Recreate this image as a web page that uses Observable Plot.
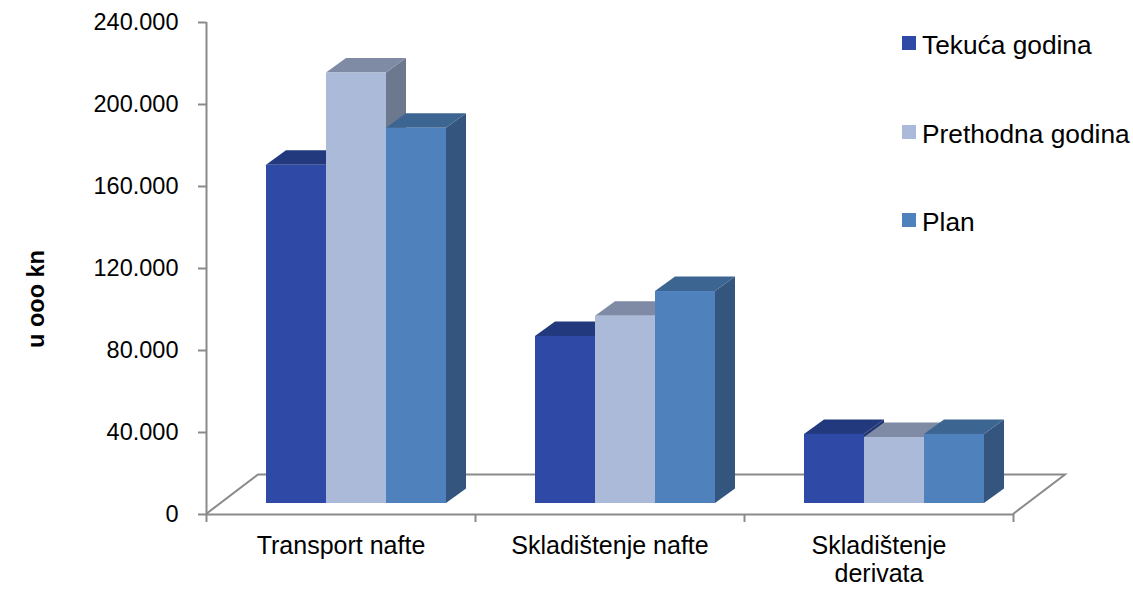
<!DOCTYPE html>
<html>
<head>
<meta charset="utf-8">
<script src="https://cdn.jsdelivr.net/npm/d3@7"></script>
<script src="https://cdn.jsdelivr.net/npm/@observablehq/plot@0.6"></script>
<style>
  html, body { margin: 0; padding: 0; background: #fff; }
  #chart { position: relative; width: 1133px; height: 589px; font-family: "Liberation Sans", Arial, sans-serif; }
  #legend { position: absolute; left: 902px; top: 0; }
  .item { position: absolute; left: 0; white-space: nowrap; font-size: 26.3px; line-height: 26px; color: #000; }
  .key { position: absolute; left: 0; width: 14px; height: 14px; }
  .lbl { position: absolute; left: 20px; top: 0; }
</style>
</head>
<body>
<div id="chart"><div id="legend"></div></div>
<script>
// ---- data ----
const categories = ["Transport nafte", "Skladištenje nafte", "Skladištenje\nderivata"];
const seriesNames = ["Tekuća godina", "Prethodna godina", "Plan"];
const tekuca    = [165000, 81500, 33700];
const prethodna = [210000, 91400, 32200];
const plan      = [183000, 103400, 33700];
const yTicks = [0, 40000, 80000, 120000, 160000, 200000, 240000];
const yLabel = "u ooo kn";

// ---- styles ----
const frontColors = ["#2F4AA6", "#ABBAD8", "#4F81BD"];
const topColors   = ["#223A7D", "#7F8BA4", "#3D6592"];
const sideColors  = ["#1F3470", "#6C788D", "#33557E"];
const axisGrey = "#8A8A8A";

// ---- layout constants (pixels / band fractions) ----
const GAP = 60 / 269;      // offset of first bar inside a category band
const BW = 60 / 269;       // bar width as band fraction
const FRONT_DY = -11;      // front plane of bars above the floor front edge
const DEPTH_DX = 20, DEPTH_DY = 14.5;   // bar depth
const FLOOR_DX = 52, FLOOR_DY = 39.5;   // floor depth

const seriesValues = [tekuca, prethodna, plan];
const rows = [];
categories.forEach((c, i) => {
  seriesValues.forEach((vals, s) => {
    rows.push({cat: c, series: seriesNames[s], s, value: vals[i], x1: i + GAP + s * BW, x2: i + GAP + (s + 1) * BW});
  });
});

const locale = d3.formatLocale({decimal: ",", thousands: ".", grouping: [3], currency: ["", ""]});
const fmt = locale.format(",");

function floorMark(index, scales) {
  const {x, y} = scales;
  const x0 = x(0), x1 = x(categories.length), y0 = y(0);
  const g = d3.create("svg:g");
  g.append("path")
    .attr("d", `M${x0},${y0}L${x0 + FLOOR_DX},${y0 - FLOOR_DY}L${x1 + FLOOR_DX},${y0 - FLOOR_DY}L${x1},${y0}`)
    .attr("fill", "#fff")
    .attr("stroke", axisGrey)
    .attr("stroke-width", 2);
  return g.node();
}

function depthFaces(index, scales) {
  const {x, y} = scales;
  const g = d3.create("svg:g");
  for (const d of rows) {
    const xl = x(d.x1), xr = x(d.x2);
    const yt = y(d.value) + FRONT_DY, yb = y(0) + FRONT_DY;
    g.append("path")
      .attr("d", `M${xr},${yb}L${xr + DEPTH_DX},${yb - DEPTH_DY}L${xr + DEPTH_DX},${yt - DEPTH_DY}L${xr},${yt}Z`)
      .attr("fill", sideColors[d.s]);
    g.append("path")
      .attr("d", `M${xl},${yt}L${xr},${yt}L${xr + DEPTH_DX},${yt - DEPTH_DY}L${xl + DEPTH_DX},${yt - DEPTH_DY}Z`)
      .attr("fill", topColors[d.s]);
  }
  return g.node();
}

const chart = Plot.plot({
  width: 1133,
  height: 589,
  marginLeft: 206,
  marginRight: 120,
  marginTop: 22,
  marginBottom: 75,
  style: {fontFamily: "'Liberation Sans', Arial, sans-serif", fontSize: "23.5px", background: "#fff", color: "#000"},
  x: {domain: [0, categories.length], axis: null},
  y: {domain: [0, 240000], axis: null},
  color: {domain: seriesNames, range: frontColors},
  marks: [
    floorMark,
    Plot.ruleY([0], {stroke: axisGrey, strokeWidth: 2}),
    Plot.ruleX([0], {stroke: axisGrey, strokeWidth: 2}),
    Plot.axisY({ticks: yTicks, tickFormat: fmt, tickSize: 8, tickPadding: 20, fontSize: 23.5,
                stroke: axisGrey, strokeWidth: 2, fill: "#000", label: null}),
    Plot.axisX({ticks: d3.range(categories.length + 1), tickFormat: () => "", tickSize: 8,
                stroke: axisGrey, strokeWidth: 2, label: null}),
    depthFaces,
    Plot.rect(rows, {x1: "x1", x2: "x2", y1: 0, y2: "value", fill: "series", dy: FRONT_DY}),
    Plot.text(categories, {x: (d, i) => i + 0.5, frameAnchor: "bottom", lineAnchor: "top", dy: 20,
                           fontSize: 25, lineHeight: 1.1, fill: "#000"}),
    Plot.text([yLabel], {frameAnchor: "left", rotate: -90, dx: -170, dy: 30.5, textAnchor: "middle",
                         fontWeight: "bold", fontSize: 23.5, fill: "#000"})
  ]
});
const container = document.getElementById("chart");
container.insertBefore(chart, container.firstChild);

// ---- legend ----
const legend = d3.select("#legend");
seriesNames.forEach((name, i) => {
  const item = legend.append("div").attr("class", "item").style("top", (32 + i * 88.5) + "px");
  item.append("div").attr("class", "key").style("top", "4px").style("background", frontColors[i]);
  item.append("span").attr("class", "lbl").text(name);
});
</script>
</body>
</html>
